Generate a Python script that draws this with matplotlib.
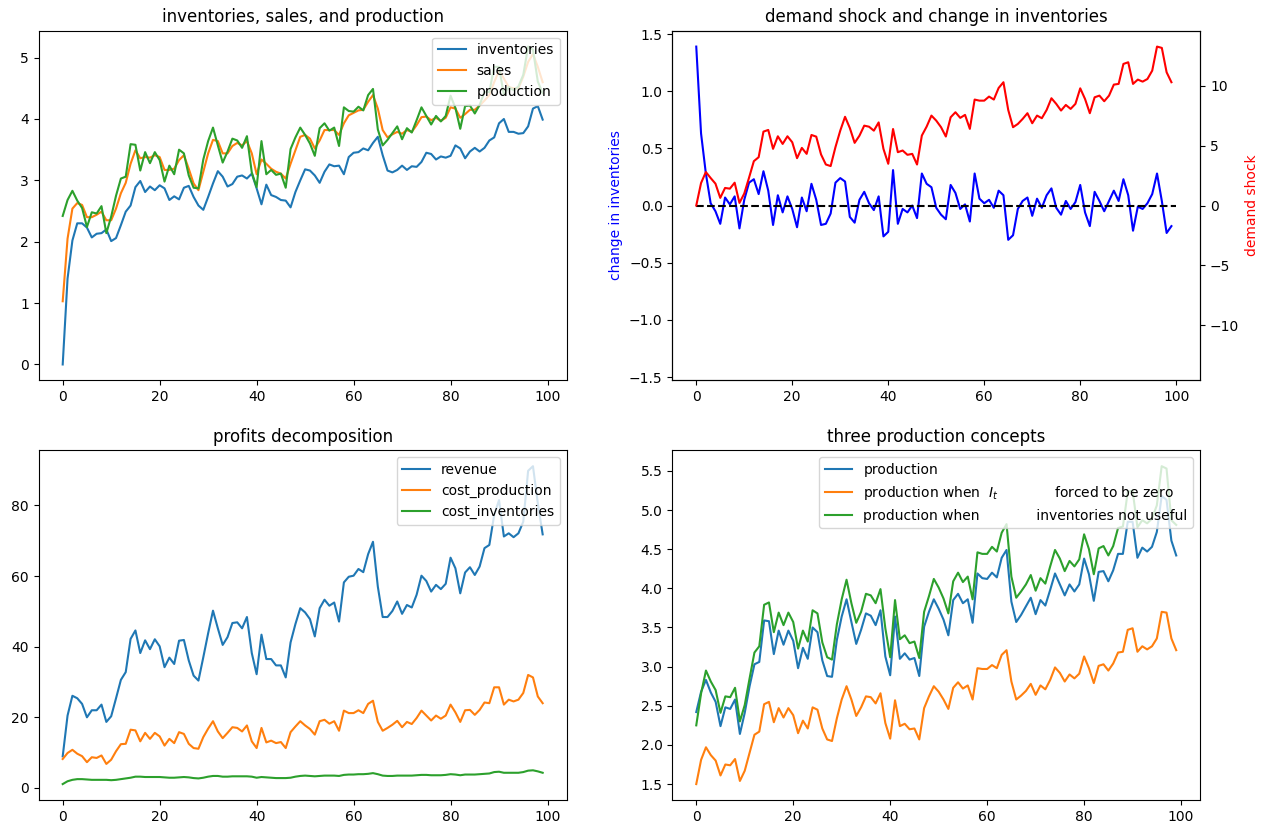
import numpy as np
import matplotlib
matplotlib.use('Agg')
import matplotlib.pyplot as plt

# --- series (t = 0..99) ---
inventories = [0, 1.4, 2.02, 2.3, 2.3, 2.23, 2.07, 2.13, 2.14, 2.2,
               2.01, 2.06, 2.27, 2.49, 2.59, 2.89, 2.99, 2.81, 2.9, 2.84,
               2.92, 2.87, 2.68, 2.74, 2.69, 2.88, 2.91, 2.73, 2.59, 2.52,
               2.73, 2.95, 3.15, 3.06, 2.9, 2.94, 3.06, 3.08, 3.03, 3.11,
               2.87, 2.61, 2.93, 2.76, 2.73, 2.68, 2.67, 2.56, 2.81, 3.0,
               3.18, 3.16, 3.08, 2.96, 3.14, 3.26, 3.23, 3.24, 3.1, 3.38,
               3.45, 3.46, 3.52, 3.49, 3.61, 3.71, 3.41, 3.16, 3.13, 3.17,
               3.24, 3.17, 3.23, 3.22, 3.3, 3.45, 3.43, 3.34, 3.39, 3.37,
               3.4, 3.57, 3.52, 3.36, 3.47, 3.53, 3.47, 3.53, 3.65, 3.7,
               3.93, 4.0, 3.79, 3.79, 3.76, 3.77, 3.88, 4.17, 4.21, 3.99]

sales = [1.03, 2.05, 2.54, 2.63, 2.6, 2.4, 2.4, 2.44, 2.49, 2.35,
         2.35, 2.54, 2.79, 2.96, 3.27, 3.49, 3.36, 3.38, 3.37, 3.41,
         3.38, 3.17, 3.17, 3.19, 3.33, 3.41, 3.19, 2.95, 2.84, 3.14,
         3.44, 3.66, 3.64, 3.44, 3.44, 3.56, 3.61, 3.57, 3.64, 3.44,
         3.1, 3.34, 3.27, 3.19, 3.14, 3.11, 3.03, 3.27, 3.49, 3.71,
         3.74, 3.68, 3.52, 3.65, 3.82, 3.82, 3.82, 3.74, 3.93, 4.06,
         4.1, 4.14, 4.15, 4.28, 4.39, 4.17, 3.82, 3.7, 3.75, 3.79,
         3.76, 3.82, 3.79, 3.9, 4.03, 4.04, 3.98, 4.02, 3.97, 4.02,
         4.19, 4.17, 4.02, 4.08, 4.15, 4.15, 4.22, 4.3, 4.39, 4.6,
         4.79, 4.66, 4.52, 4.5, 4.5, 4.69, 4.93, 5.06, 4.85, 4.6]

production = [2.42, 2.68, 2.83, 2.67, 2.55, 2.24, 2.48, 2.46, 2.58, 2.14,
              2.41, 2.75, 3.03, 3.06, 3.59, 3.58, 3.16, 3.46, 3.28, 3.46,
              3.33, 2.98, 3.24, 3.1, 3.5, 3.44, 3.08, 2.88, 2.87, 3.34,
              3.64, 3.86, 3.57, 3.29, 3.47, 3.68, 3.65, 3.53, 3.72, 3.13,
              2.89, 3.64, 3.1, 3.17, 3.09, 3.11, 2.88, 3.51, 3.7, 3.86,
              3.74, 3.6, 3.4, 3.85, 3.93, 3.81, 3.86, 3.56, 4.19, 4.13,
              4.12, 4.2, 4.14, 4.39, 4.49, 3.83, 3.57, 3.66, 3.77, 3.88,
              3.67, 3.85, 3.78, 3.98, 4.19, 4.05, 3.91, 4.05, 3.96, 4.05,
              4.38, 4.18, 3.84, 4.21, 4.22, 4.09, 4.23, 4.44, 4.44, 4.85,
              4.85, 4.39, 4.52, 4.47, 4.53, 4.72, 5.18, 5.13, 4.61, 4.42]

change_inventories = [1.39, 0.63, 0.28, 0.02, -0.05, -0.16, 0.07, 0.01, 0.08, -0.2,
                      0.05, 0.2, 0.23, 0.1, 0.3, 0.13, -0.17, 0.09, -0.06, 0.08,
                      -0.03, -0.19, 0.07, -0.05, 0.19, 0.05, -0.17, -0.16, -0.07, 0.2,
                      0.24, 0.21, -0.1, -0.15, 0.05, 0.12, 0.02, -0.04, 0.08, -0.27,
                      -0.23, 0.31, -0.16, -0.03, -0.06, 0.0, -0.11, 0.28, 0.19, 0.16,
                      -0.02, -0.08, -0.12, 0.18, 0.11, -0.03, 0.01, -0.14, 0.28, 0.06,
                      0.02, 0.05, -0.02, 0.13, 0.09, -0.3, -0.26, -0.03, 0.04, 0.07,
                      -0.09, 0.06, -0.02, 0.09, 0.15, -0.02, -0.08, 0.04, -0.03, 0.03,
                      0.18, -0.06, -0.18, 0.12, 0.04, -0.05, 0.04, 0.13, 0.04, 0.23,
                      0.09, -0.22, -0.01, -0.03, 0.02, 0.1, 0.28, 0.04, -0.24, -0.18]

demand_shock = [0, 1.88, 2.8, 2.3, 1.83, 0.64, 1.47, 1.41, 1.91, 0.22,
                1.0, 2.33, 3.71, 4.04, 6.18, 6.32, 4.74, 5.79, 5.15, 5.79,
                5.29, 3.96, 4.82, 4.32, 5.9, 5.76, 4.27, 3.43, 3.3, 4.88,
                6.26, 7.42, 6.48, 5.24, 5.84, 6.68, 6.59, 6.26, 6.95, 4.74,
                3.49, 6.4, 4.46, 4.6, 4.24, 4.32, 3.43, 5.85, 6.6, 7.52,
                7.1, 6.55, 5.77, 7.38, 7.8, 7.33, 7.58, 6.41, 8.86, 8.77,
                8.77, 9.11, 8.86, 9.83, 10.31, 7.99, 6.55, 6.82, 7.24, 7.72,
                6.88, 7.52, 7.3, 7.99, 8.97, 8.5, 7.94, 8.41, 8.08, 8.5,
                9.8, 8.91, 7.72, 9.05, 9.19, 8.72, 9.19, 10.11, 10.17, 11.84,
                11.98, 10.17, 10.53, 10.36, 10.58, 11.28, 13.29, 13.18, 11.14, 10.31]

revenue = [8.95, 20.5, 26.1, 25.4, 23.8, 20.0, 22.0, 22.0, 23.6, 18.7,
           20.3, 25.4, 30.6, 32.8, 42.2, 44.6, 38.2, 41.8, 39.3, 42.1,
           40.1, 34.2, 36.9, 35.1, 41.7, 41.9, 36.1, 31.8, 30.4, 37.0,
           43.8, 50.2, 45.2, 40.5, 42.7, 46.7, 46.9, 45.2, 48.4, 38.2,
           32.2, 43.4, 36.5, 36.5, 34.7, 34.7, 31.3, 41.2, 46.4, 50.9,
           49.7, 47.8, 42.9, 50.9, 53.3, 51.6, 52.5, 47.1, 58.2, 59.8,
           60.1, 62.0, 61.1, 66.2, 69.7, 57.0, 48.4, 48.4, 50.1, 52.8,
           49.3, 51.8, 51.1, 54.7, 60.1, 58.6, 55.6, 57.5, 56.3, 57.8,
           65.2, 62.2, 55.1, 61.0, 62.5, 60.3, 62.7, 67.9, 68.8, 77.3,
           81.5, 71.2, 72.1, 71.0, 72.1, 75.4, 89.8, 91.1, 80.6, 71.8]

cost_production = [8.2, 9.9, 10.8, 9.7, 9.0, 7.3, 8.7, 8.5, 9.2, 6.8,
                   8.0, 10.4, 12.4, 12.5, 16.5, 16.3, 13.2, 15.6, 13.9, 15.6,
                   14.6, 12.0, 13.9, 12.7, 15.8, 15.3, 12.5, 11.3, 11.1, 14.4,
                   16.8, 18.9, 16.0, 14.1, 15.6, 17.2, 17.0, 16.0, 17.7, 13.2,
                   11.3, 17.0, 12.9, 13.4, 12.7, 13.0, 11.3, 15.8, 17.4, 18.9,
                   17.7, 16.7, 15.1, 18.9, 19.3, 18.2, 18.9, 16.2, 21.9, 21.2,
                   21.2, 22.0, 21.2, 23.8, 24.7, 18.7, 16.2, 17.0, 17.9, 19.0,
                   17.2, 18.7, 18.1, 19.8, 21.9, 20.5, 19.1, 20.5, 19.6, 20.5,
                   23.6, 21.4, 18.7, 22.0, 22.1, 20.7, 22.1, 24.2, 24.0, 28.5,
                   28.5, 23.6, 25.0, 24.5, 25.0, 26.9, 32.0, 31.3, 25.9, 24.0]

cost_inventories = [1.1, 1.9, 2.3, 2.5, 2.5, 2.4, 2.3, 2.3, 2.3, 2.3,
                    2.2, 2.3, 2.5, 2.7, 2.9, 3.2, 3.2, 3.1, 3.1, 3.1,
                    3.1, 3.0, 2.9, 2.9, 3.0, 3.1, 3.0, 2.8, 2.7, 2.9,
                    3.2, 3.4, 3.4, 3.2, 3.2, 3.3, 3.3, 3.3, 3.3, 3.2,
                    2.9, 3.1, 3.0, 2.9, 2.8, 2.8, 2.8, 2.9, 3.2, 3.4,
                    3.5, 3.4, 3.3, 3.4, 3.5, 3.5, 3.5, 3.4, 3.7, 3.8,
                    3.8, 3.9, 3.9, 4.0, 4.2, 3.9, 3.5, 3.4, 3.4, 3.5,
                    3.5, 3.5, 3.5, 3.6, 3.7, 3.7, 3.6, 3.6, 3.6, 3.7,
                    3.9, 3.8, 3.6, 3.8, 3.8, 3.8, 3.9, 4.0, 4.1, 4.5,
                    4.6, 4.3, 4.3, 4.3, 4.3, 4.5, 4.9, 5.0, 4.7, 4.3]

production_no_inv = [1.5, 1.81, 1.97, 1.87, 1.8, 1.61, 1.75, 1.74, 1.82, 1.54,
                     1.67, 1.9, 2.13, 2.17, 2.52, 2.55, 2.29, 2.47, 2.35, 2.47,
                     2.38, 2.15, 2.31, 2.21, 2.48, 2.45, 2.21, 2.07, 2.05, 2.34,
                     2.58, 2.75, 2.58, 2.37, 2.48, 2.62, 2.61, 2.53, 2.66, 2.28,
                     2.08, 2.57, 2.24, 2.27, 2.2, 2.21, 2.07, 2.47, 2.62, 2.75,
                     2.68, 2.58, 2.46, 2.73, 2.8, 2.72, 2.76, 2.58, 2.98, 2.97,
                     2.97, 3.02, 2.98, 3.15, 3.21, 2.81, 2.58, 2.63, 2.69, 2.78,
                     2.64, 2.76, 2.71, 2.83, 2.99, 2.92, 2.81, 2.9, 2.85, 2.91,
                     3.13, 2.98, 2.79, 3.01, 3.03, 2.95, 3.04, 3.18, 3.19, 3.47,
                     3.49, 3.19, 3.26, 3.22, 3.26, 3.36, 3.7, 3.69, 3.36, 3.21]

production_inv_useless = [2.25, 2.66, 2.95, 2.81, 2.7, 2.41, 2.62, 2.61, 2.73, 2.3,
                          2.51, 2.85, 3.18, 3.26, 3.79, 3.82, 3.44, 3.69, 3.53, 3.69,
                          3.57, 3.23, 3.46, 3.32, 3.72, 3.68, 3.31, 3.12, 3.09, 3.54,
                          3.86, 4.11, 3.81, 3.56, 3.7, 3.93, 3.91, 3.81, 3.99, 3.49,
                          3.12, 3.85, 3.35, 3.4, 3.3, 3.32, 3.11, 3.7, 3.9, 4.12,
                          4.01, 3.87, 3.68, 4.09, 4.2, 4.08, 4.15, 3.86, 4.46, 4.44,
                          4.44, 4.53, 4.47, 4.71, 4.82, 4.15, 3.88, 3.96, 4.05, 4.17,
                          3.97, 4.13, 4.06, 4.28, 4.49, 4.38, 4.22, 4.35, 4.28, 4.37,
                          4.69, 4.5, 4.18, 4.51, 4.54, 4.42, 4.54, 4.77, 4.79, 5.23,
                          5.25, 4.78, 4.87, 4.83, 4.89, 5.06, 5.56, 5.53, 4.87, 4.81]

t = np.arange(len(inventories))

fig, axes = plt.subplots(2, 2, figsize=(12.69, 8.34), dpi=100)
fig.subplots_adjust(left=0.0305, right=0.9458, top=0.9632, bottom=0.0408,
                    wspace=0.2, hspace=0.2)

# inventories, sales, production
ax = axes[0, 0]
ax.plot(t, inventories, label='inventories')
ax.plot(t, sales, label='sales')
ax.plot(t, production, label='production')
ax.set_title('inventories, sales, and production')
ax.legend(loc='upper right')

# demand shock and change in inventories
ax = axes[0, 1]
ax.plot(t, change_inventories, 'b')
ax.hlines(0, 0, len(t), color='k', linestyle='--')
lim = 1.1 * np.max(np.abs(change_inventories))
ax.set_ylim(-lim, lim)
ax.set_ylabel('change in inventories', color='b')
ax.set_title('demand shock and change in inventories')
ax2 = ax.twinx()
ax2.plot(t, demand_shock, 'r')
lim2 = 1.1 * np.max(np.abs(demand_shock))
ax2.set_ylim(-lim2, lim2)
ax2.set_ylabel('demand shock', color='r')

# profits decomposition
ax = axes[1, 0]
ax.plot(t, revenue, label='revenue')
ax.plot(t, cost_production, label='cost_production')
ax.plot(t, cost_inventories, label='cost_inventories')
ax.set_title('profits decomposition')
ax.legend(loc='upper right')

# three production concepts
ax = axes[1, 1]
ax.plot(t, production, label='production')
ax.plot(t, production_no_inv,
        label='production when  $I_t$             forced to be zero')
ax.plot(t, production_inv_useless,
        label='production when             inventories not useful')
ax.set_title('three production concepts')
ax.legend(loc='upper right')

fig.savefig('out.png', dpi=100)
